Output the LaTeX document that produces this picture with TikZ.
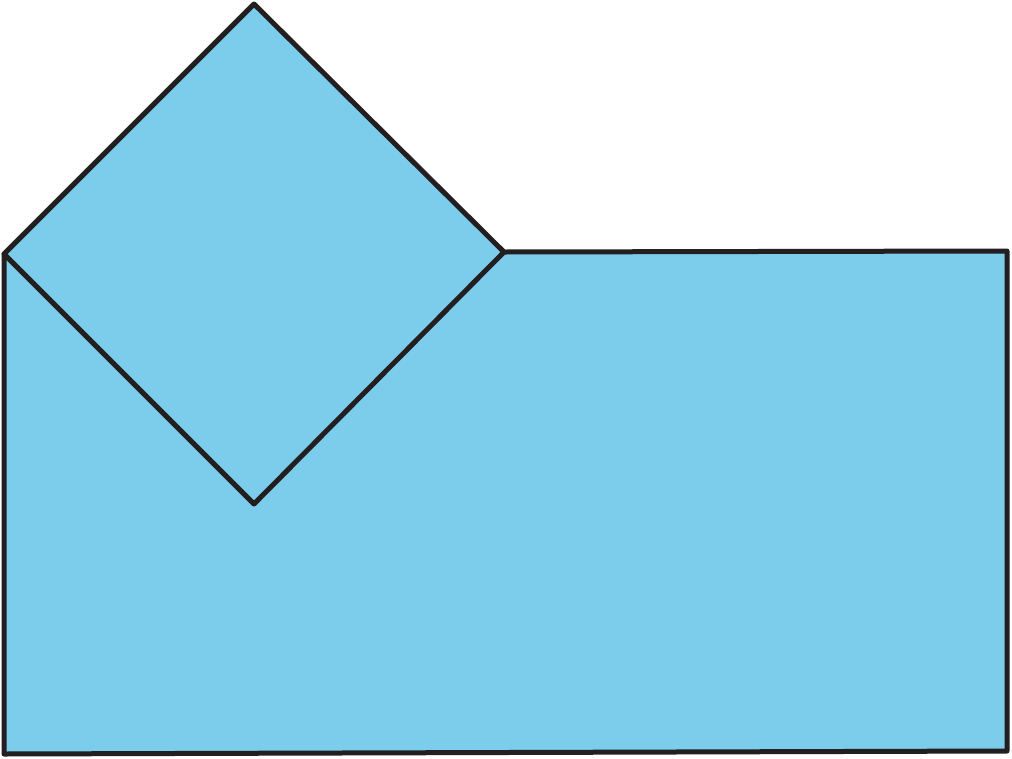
\documentclass[tikz,border=0pt]{standalone}
\definecolor{fillblue}{HTML}{7BCDEB}
\definecolor{edge}{HTML}{231F20}
\tikzset{outline/.style={draw=edge,line width=5pt,line join=round,line cap=round}}
\begin{document}
\begin{tikzpicture}[x=1pt,y=-1pt]
\useasboundingbox (0,0) rectangle (1012,758);
\coordinate (dt) at (254,4);
\coordinate (dl) at (4,254);
\coordinate (dr) at (504,252);
\coordinate (db) at (254,504);
\coordinate (rtr) at (1007,251);
\coordinate (rbr) at (1007,751);
\coordinate (rbl) at (4,754);
\fill[fillblue] (dl) -- (dt) -- (dr) -- (rtr) -- (rbr) -- (rbl) -- cycle;
\draw[outline] (dl) -- (dt) -- (dr) -- (db) -- cycle;
\draw[outline] (dr) -- (rtr) -- (rbr) -- (rbl) -- (dl);
\end{tikzpicture}
\end{document}
